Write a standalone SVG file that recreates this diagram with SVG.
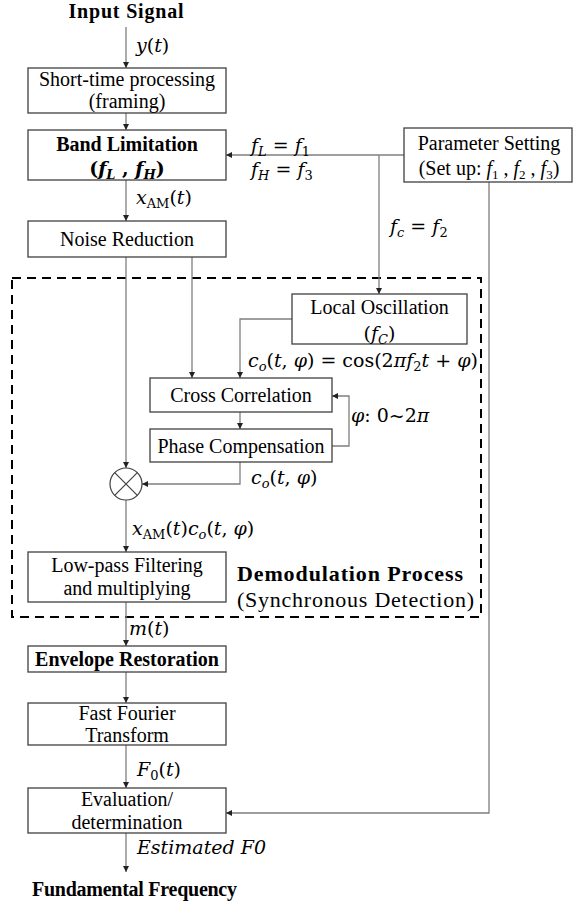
<svg xmlns="http://www.w3.org/2000/svg" width="573" height="905" viewBox="0 0 573 905">
<style>
.box{fill:#fff;stroke:#404040;stroke-width:1.3}
.ln{fill:none;stroke:#7f7f7f;stroke-width:1.3}
.t{font-family:"Liberation Serif","DejaVu Serif",serif;font-size:20px;fill:#000}
.c{text-anchor:middle}
.b{font-weight:bold}
.big{font-size:22px}
.m{font-family:"DejaVu Serif","Liberation Serif",serif;font-size:19px;fill:#000}
.i{font-style:italic}
.s{font-size:13px}
</style>
<defs>
<marker id="ah" viewBox="0 0 10 10" refX="10" refY="5" markerWidth="6" markerHeight="6" markerUnits="userSpaceOnUse" orient="auto">
<path d="M0,0 L10,5 L0,10 z" fill="#222"/>
</marker>
</defs>
<rect x="12" y="278" width="469" height="339" fill="none" stroke="#000" stroke-width="2" stroke-dasharray="9 6"/>
<g id="connectors">
<path class="ln" d="M126,27 V68" marker-end="url(#ah)"/>
<path class="ln" d="M126,113 V130" marker-end="url(#ah)"/>
<path class="ln" d="M404,155 H226" marker-end="url(#ah)"/>
<path class="ln" d="M379,155 V294" marker-end="url(#ah)"/>
<path class="ln" d="M489,182 V813 H226" marker-end="url(#ah)"/>
<path class="ln" d="M126,180 V221" marker-end="url(#ah)"/>
<path class="ln" d="M126,257 V468" marker-end="url(#ah)"/>
<path class="ln" d="M192,257 V378" marker-end="url(#ah)"/>
<path class="ln" d="M292,319 H240 V378" marker-end="url(#ah)"/>
<path class="ln" d="M240,412 V429" marker-end="url(#ah)"/>
<path class="ln" d="M332,446 H349 V396 H332" marker-end="url(#ah)"/>
<path class="ln" d="M240,462 V484 H142" marker-end="url(#ah)"/>
<path class="ln" d="M126,500 V552" marker-end="url(#ah)"/>
<path class="ln" d="M126,602 V646" marker-end="url(#ah)"/>
<path class="ln" d="M126,672 V703" marker-end="url(#ah)"/>
<path class="ln" d="M126,745 V788" marker-end="url(#ah)"/>
<path class="ln" d="M126,833 V872" marker-end="url(#ah)"/>
</g>
<g id="input"><text class="t b c" x="126" y="18" textLength="115" lengthAdjust="spacing">Input Signal</text></g>
<g id="lbl-y"><text class="m" x="136" y="52"><tspan class="i">y</tspan>(<tspan class="i">t</tspan>)</text></g>
<g id="short-time">
<rect class="box" x="28" y="68" width="198" height="45"/>
<text class="t c" x="127" y="86">Short-time processing</text>
<text class="t c" x="127" y="108">(framing)</text>
</g>
<g id="band">
<rect class="box" x="28" y="130" width="198" height="50"/>
<text class="t b c" x="127" y="151">Band Limitation</text>
<text class="m b c" x="127" y="175">(<tspan class="i">f</tspan><tspan class="i s" dy="4">L</tspan><tspan dy="-4"> , </tspan><tspan class="i">f</tspan><tspan class="i s" dy="4">H</tspan><tspan dy="-4">)</tspan></text>
</g>
<g id="lbl-fl"><text class="m" x="251" y="152"><tspan class="i">f</tspan><tspan class="i s" dy="4">L</tspan><tspan dy="-4"> = </tspan><tspan class="i">f</tspan><tspan class="s" dy="4">1</tspan></text></g>
<g id="lbl-fh"><text class="m" x="251" y="176"><tspan class="i">f</tspan><tspan class="i s" dy="4">H</tspan><tspan dy="-4"> = </tspan><tspan class="i">f</tspan><tspan class="s" dy="4">3</tspan></text></g>
<g id="param">
<rect class="box" x="404" y="128" width="168" height="54"/>
<text class="t c" x="489" y="150">Parameter Setting</text>
<text class="t c" x="489" y="175">(Set up: <tspan class="i">f</tspan><tspan class="s" dy="4">1</tspan><tspan dy="-4"> , </tspan><tspan class="i">f</tspan><tspan class="s" dy="4">2</tspan><tspan dy="-4"> , </tspan><tspan class="i">f</tspan><tspan class="s" dy="4">3</tspan><tspan dy="-4">)</tspan></text>
</g>
<g id="lbl-fc"><text class="m" x="390" y="233"><tspan class="i">f</tspan><tspan class="i s" dy="4">c</tspan><tspan dy="-4"> = </tspan><tspan class="i">f</tspan><tspan class="s" dy="4">2</tspan></text></g>
<g id="lbl-xam"><text class="m" x="136" y="204"><tspan class="i">x</tspan><tspan class="s" dy="4">AM</tspan><tspan dy="-4">(</tspan><tspan class="i">t</tspan>)</text></g>
<g id="noise">
<rect class="box" x="28" y="221" width="198" height="36"/>
<text class="t c" x="127" y="246">Noise Reduction</text>
</g>
<g id="local-osc">
<rect class="box" x="292" y="294" width="175" height="50"/>
<text class="t c" x="379.5" y="314">Local Oscillation</text>
<text class="m c" x="379.5" y="340">(<tspan class="i">f</tspan><tspan class="i s" dy="4">C</tspan><tspan dy="-4">)</tspan></text>
</g>
<g id="lbl-cos"><text class="m" x="248" y="367"><tspan class="i">c</tspan><tspan class="i s" dy="4">o</tspan><tspan dy="-4">(</tspan><tspan class="i">t</tspan>, <tspan class="i">φ</tspan>) = cos(2<tspan class="i">πf</tspan><tspan class="s" dy="4">2</tspan><tspan class="i" dy="-4">t</tspan> + <tspan class="i">φ</tspan>)</text></g>
<g id="cross">
<rect class="box" x="150" y="378" width="182" height="34"/>
<text class="t c" x="241" y="402">Cross Correlation</text>
</g>
<g id="lbl-phi"><text class="m" x="351" y="422"><tspan class="i">φ</tspan>: 0~2<tspan class="i">π</tspan></text></g>
<g id="phase">
<rect class="box" x="150" y="429" width="182" height="33"/>
<text class="t c" x="241" y="453">Phase Compensation</text>
</g>
<g id="lbl-co"><text class="m" x="251" y="484"><tspan class="i">c</tspan><tspan class="i s" dy="4">o</tspan><tspan dy="-4">(</tspan><tspan class="i">t</tspan>, <tspan class="i">φ</tspan>)</text></g>
<g id="multiplier">
<circle cx="126" cy="484" r="16" fill="#fff" stroke="#404040" stroke-width="1.2"/>
<path d="M114.7,472.7 L137.3,495.3 M137.3,472.7 L114.7,495.3" stroke="#404040" stroke-width="1.2"/>
</g>
<g id="lbl-prod"><text class="m" x="132" y="535"><tspan class="i">x</tspan><tspan class="s" dy="4">AM</tspan><tspan dy="-4">(</tspan><tspan class="i">t</tspan>)<tspan class="i">c</tspan><tspan class="i s" dy="4">o</tspan><tspan dy="-4">(</tspan><tspan class="i">t</tspan>, <tspan class="i">φ</tspan>)</text></g>
<g id="lowpass">
<rect class="box" x="28" y="552" width="198" height="50"/>
<text class="t c" x="127" y="572">Low-pass Filtering</text>
<text class="t c" x="127" y="595">and multiplying</text>
</g>
<g id="demod-title">
<text class="t b big" x="237" y="581" textLength="226" lengthAdjust="spacing">Demodulation Process</text>
<text class="t big" x="237" y="607" textLength="237" lengthAdjust="spacing">(Synchronous Detection)</text>
</g>
<g id="lbl-m"><text class="m" x="129" y="635"><tspan class="i">m</tspan>(<tspan class="i">t</tspan>)</text></g>
<g id="envelope">
<rect class="box" x="28" y="646" width="198" height="26"/>
<text class="t b c" x="127" y="666">Envelope Restoration</text>
</g>
<g id="fft">
<rect class="box" x="28" y="703" width="198" height="42"/>
<text class="t c" x="127" y="720">Fast Fourier</text>
<text class="t c" x="127" y="742">Transform</text>
</g>
<g id="lbl-f0"><text class="m" x="137" y="776"><tspan class="i">F</tspan><tspan class="s" dy="4">0</tspan><tspan dy="-4">(</tspan><tspan class="i">t</tspan>)</text></g>
<g id="eval">
<rect class="box" x="28" y="788" width="198" height="45"/>
<text class="t c" x="127" y="806">Evaluation/</text>
<text class="t c" x="127" y="829">determination</text>
</g>
<g id="lbl-est"><text class="m i" x="137" y="854">Estimated F0</text></g>
<g id="output"><text class="t b" x="32" y="896" textLength="205" lengthAdjust="spacing">Fundamental Frequency</text></g>
</svg>
